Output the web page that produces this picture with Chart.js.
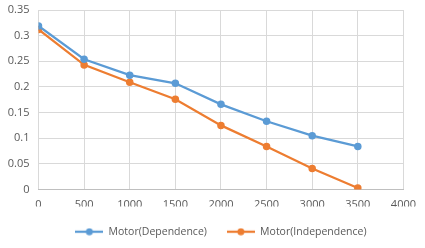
<!DOCTYPE html>
<html>
<head>
<meta charset="utf-8">
<script src="https://cdn.jsdelivr.net/npm/chart.js@4"></script>
<style>
  html, body { margin: 0; padding: 0; background: #fff; }
  #wrap { width: 425px; height: 248px; }
</style>
</head>
<body>
<div id="wrap"><canvas id="c" width="425" height="248"></canvas></div>
<script>
const speeds = [0, 500, 1000, 1500, 2000, 2500, 3000, 3500];
const dependence = [0.319, 0.254, 0.223, 0.207, 0.166, 0.133, 0.105, 0.084];
const independence = [0.312, 0.243, 0.209, 0.176, 0.125, 0.084, 0.041, 0.003];
const seriesNames = ['Motor(Dependence)', 'Motor(Independence)'];
const seriesColors = ['#5B9BD5', '#ED7D31'];

const textColor = '#595959';
const fontFamily = "'Open Sans', 'Liberation Sans', sans-serif";

// legend marker: short line with a dot in the middle
const makeMarker = (color) => {
    const cv = document.createElement('canvas');
    cv.width = 28; cv.height = 8;
    const ctx = cv.getContext('2d');
    ctx.strokeStyle = color;
    ctx.lineWidth = 2.25;
    ctx.beginPath();
    ctx.moveTo(0, 4); ctx.lineTo(28, 4);
    ctx.stroke();
    ctx.fillStyle = color;
    ctx.beginPath();
    ctx.arc(14, 4, 3.5, 0, Math.PI * 2);
    ctx.fill();
    return cv;
};

const toPoints = (vals) => vals.map((v, i) => ({ x: speeds[i], y: v }));

new Chart(document.getElementById('c'), {
    type: 'line',
    data: {
        datasets: [dependence, independence].map((vals, i) => ({
            label: seriesNames[i],
            data: toPoints(vals),
            borderColor: seriesColors[i],
            backgroundColor: seriesColors[i],
            borderWidth: 2.25,
            pointRadius: 3.75,
            pointBorderWidth: 0,
            tension: 0,
            fill: false
        }))
    },
    options: {
        responsive: false,
        animation: false,
        layout: { padding: { left: 0, right: 21, top: 10, bottom: 1 } },
        scales: {
            x: {
                type: 'linear',
                min: 0,
                max: 4000,
                ticks: {
                    stepSize: 500,
                    color: textColor,
                    font: { family: fontFamily, size: 11 },
                    padding: 9,
                    maxRotation: 0,
                    callback: (v) => String(v)
                },
                grid: { color: '#d9d9d9', drawTicks: false },
                border: { color: '#bfbfbf' },
                afterFit: (s) => { s.height = 17; }
            },
            y: {
                min: 0,
                max: 0.35,
                ticks: {
                    stepSize: 0.05,
                    color: textColor,
                    font: { family: fontFamily, size: 11 },
                    padding: 9,
                    callback: (v) => String(Math.round(v * 100) / 100)
                },
                grid: { color: '#d9d9d9', drawTicks: false },
                border: { display: false },
                afterFit: (s) => { s.width = 38.5; s.paddingTop = 0; s.paddingBottom = 0; }
            }
        },
        plugins: {
            legend: {
                position: 'bottom',
                fullSize: false,
                labels: {
                    color: textColor,
                    font: { family: fontFamily, size: 10.5 },
                    usePointStyle: true,
                    pointStyleWidth: 28,
                    padding: 20,
                    generateLabels: (chart) => chart.data.datasets.map((d, i) => ({
                        text: d.label,
                        fontColor: textColor,
                        pointStyle: makeMarker(seriesColors[i]),
                        datasetIndex: i,
                        lineWidth: 0
                    }))
                }
            },
            tooltip: { enabled: false }
        }
    }
});
</script>
</body>
</html>
